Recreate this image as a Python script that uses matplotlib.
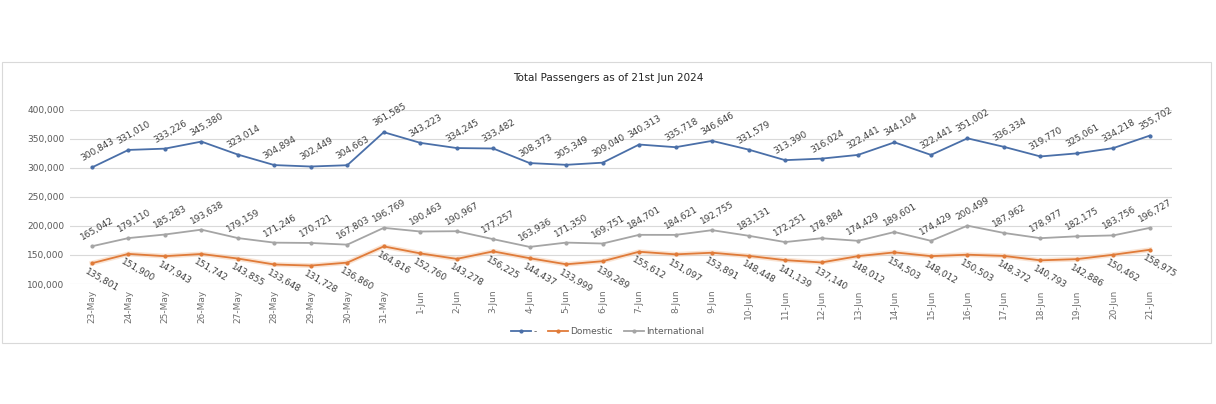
import matplotlib.pyplot as plt
from matplotlib.patches import Rectangle

plt.rcParams['font.family'] = ['Liberation Sans Narrow', 'DejaVu Sans']

dates = ['23-May', '24-May', '25-May', '26-May', '27-May', '28-May', '29-May', '30-May', '31-May',
         '1-Jun', '2-Jun', '3-Jun', '4-Jun', '5-Jun', '6-Jun', '7-Jun', '8-Jun', '9-Jun', '10-Jun',
         '11-Jun', '12-Jun', '13-Jun', '14-Jun', '15-Jun', '16-Jun', '17-Jun', '18-Jun', '19-Jun',
         '20-Jun', '21-Jun']
total = [300843, 331010, 333226, 345380, 323014, 304894, 302449, 304663, 361585, 343223,
         334245, 333482, 308373, 305349, 309040, 340313, 335718, 346646, 331579, 313390,
         316024, 322441, 344104, 322441, 351002, 336334, 319770, 325061, 334218, 355702]
domestic = [135801, 151900, 147943, 151742, 143855, 133648, 131728, 136860, 164816, 152760,
            143278, 156225, 144437, 133999, 139289, 155612, 151097, 153891, 148448, 141139,
            137140, 148012, 154503, 148012, 150503, 148372, 140793, 142886, 150462, 158975]
international = [165042, 179110, 185283, 193638, 179159, 171246, 170721, 167803, 196769, 190463,
                 190967, 177257, 163936, 171350, 169751, 184701, 184621, 192755, 183131, 172251,
                 178884, 174429, 189601, 174429, 200499, 187962, 178977, 182175, 183756, 196727]

fig = plt.figure(figsize=(12.16, 4.04), dpi=100)
ax = fig.add_axes([0.0576, 0.297, 0.906, 0.431])

x = list(range(len(dates)))
lab_col = '#404040'

ax.plot(x, total, color='#4A6FA8', lw=1.3, marker='o', ms=2, label='-', zorder=3)
ax.plot(x, domestic, color='#F4C9A8', lw=3.5, alpha=0.5, zorder=2)
ax.plot(x, domestic, color='#E07B39', lw=1.3, marker='o', ms=2, label='Domestic', zorder=3)
ax.plot(x, international, color='#A5A5A5', lw=1.3, marker='o', ms=2, label='International', zorder=3)

for i in x:
    ax.annotate(f'{total[i]:,}', (i, total[i]), xytext=(4, 12.5), textcoords='offset points',
                ha='center', va='center', rotation=30, fontsize=6.5, color=lab_col)
    ax.annotate(f'{international[i]:,}', (i, international[i]), xytext=(4, 12.5), textcoords='offset points',
                ha='center', va='center', rotation=30, fontsize=6.5, color=lab_col)
    ax.annotate(f'{domestic[i]:,}', (i, domestic[i]), xytext=(7, -12), textcoords='offset points',
                ha='center', va='center', rotation=-30, fontsize=6.5, color=lab_col)

ax.set_xlim(-0.6, len(dates) - 0.4)
ax.set_ylim(100000, 400000)
ax.set_yticks(range(100000, 400001, 50000))
ax.set_yticklabels([f'{v:,}' for v in range(100000, 400001, 50000)], fontsize=6.5, color='#595959')
ax.set_xticks(x)
ax.set_xticklabels(dates, rotation=90, fontsize=6.5, color='#6f6f6f')
ax.tick_params(length=0, pad=4)
ax.grid(axis='y', color='#D9D9D9', lw=0.8)
ax.set_axisbelow(True)
for s in ax.spines.values():
    s.set_visible(False)

fig.text(0.5, 0.807, 'Total Passengers as of 21st Jun 2024', ha='center', va='center',
         fontsize=7.5, color='#222222')

ax.legend(loc='center', bbox_to_anchor=(0.5, 0.18), bbox_transform=fig.transFigure, ncol=3,
          frameon=False, fontsize=6.5, handlelength=2.2, columnspacing=1.2, handletextpad=0.3,
          labelcolor='#595959')

fig.patches.append(Rectangle((0.002, 0.151), 0.994, 0.696, transform=fig.transFigure,
                             fill=False, ec='#D9D9D9', lw=0.8))

fig.savefig('out.png', dpi=100)
